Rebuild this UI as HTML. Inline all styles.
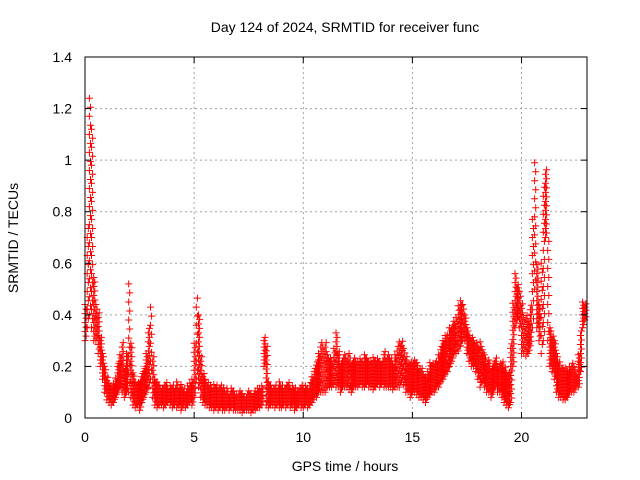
<!DOCTYPE html>
<html><head><meta charset="utf-8"><style>
body{margin:0;background:#fff;}
svg{display:block;font-family:"Liberation Sans",sans-serif;}
</style></head><body>
<svg id="chart" width="640" height="480" viewBox="0 0 640 480">
<rect width="640" height="480" fill="#fff"/>
<text x="345" y="32" font-size="14" text-anchor="middle" fill="#000">Day 124 of 2024, SRMTID for receiver func</text>
<text x="345" y="471" font-size="14" text-anchor="middle" fill="#000">GPS time / hours</text>
<text transform="translate(18,238) rotate(-90)" font-size="14" text-anchor="middle" fill="#000">SRMTID / TECUs</text>
<g id="grid"></g>
<g id="marks"></g>
<g id="axes"></g>
</svg>
<script>
const xTicks=[0,5,10,15,20];
const yTicks=[0,0.2,0.4,0.6,0.8,1,1.2,1.4];
const yTickLabels=["0","0.2","0.4","0.6","0.8","1","1.2","1.4"];
const binHours=0.1;
const lowVals=[
.30,.35,.40,.35,.30,.30,.25,.20,.15,.10,
.07,.06,.05,.06,.08,.10,.12,.10,.08,.10,
.10,.08,.05,.04,.05,.03,.06,.08,.10,.12,
.15,.08,.05,.04,.05,.05,.04,.05,.06,.05,
.04,.05,.04,.05,.03,.05,.04,.05,.06,.05,
.08,.15,.12,.08,.06,.05,.05,.04,.04,.03,
.04,.03,.04,.03,.03,.04,.03,.04,.03,.03,
.03,.03,.02,.03,.03,.03,.02,.03,.03,.04,
.04,.05,.20,.05,.04,.05,.05,.04,.05,.04,
.04,.05,.04,.05,.04,.05,.03,.04,.05,.04,
.04,.05,.04,.05,.06,.08,.08,.10,.10,.10,
.10,.12,.12,.12,.13,.12,.12,.10,.12,.12,
.12,.11,.10,.12,.12,.12,.13,.12,.12,.13,
.12,.12,.11,.12,.13,.12,.13,.12,.12,.12,
.12,.11,.12,.12,.12,.14,.13,.10,.10,.08,
.10,.10,.09,.08,.08,.07,.06,.08,.09,.10,
.10,.12,.12,.14,.15,.17,.18,.20,.22,.25,
.25,.26,.28,.30,.30,.25,.22,.20,.20,.18,
.15,.12,.14,.12,.10,.10,.08,.10,.12,.10,
.10,.08,.06,.05,.04,.06,.20,.35,.38,.35,
.25,.25,.24,.25,.28,.35,.50,.35,.30,.25,
.30,.70,.30,.20,.18,.15,.10,.08,.08,.07,
.07,.08,.10,.10,.10,.12,.12,.18,.35,.38];
const highVals=[
.45,.75,1.24,1.12,.55,.45,.42,.32,.25,.20,
.16,.14,.13,.14,.16,.22,.25,.30,.20,.25,
.54,.30,.18,.15,.14,.15,.18,.20,.25,.35,
.46,.25,.15,.14,.13,.12,.13,.14,.12,.13,
.13,.12,.14,.12,.13,.12,.11,.13,.14,.16,
.30,.47,.40,.25,.18,.15,.14,.13,.12,.13,
.13,.12,.13,.12,.11,.12,.10,.12,.11,.10,
.10,.11,.10,.09,.10,.11,.10,.10,.11,.12,
.12,.13,.32,.28,.15,.13,.12,.13,.12,.14,
.13,.12,.13,.14,.12,.13,.12,.11,.12,.13,
.12,.13,.12,.14,.16,.20,.22,.25,.30,.28,
.30,.25,.24,.22,.28,.34,.26,.22,.24,.25,
.24,.26,.22,.24,.22,.23,.24,.22,.25,.23,
.22,.23,.24,.22,.24,.23,.22,.26,.24,.25,
.24,.22,.25,.28,.30,.31,.28,.24,.22,.22,
.22,.23,.22,.20,.20,.18,.16,.18,.22,.22,
.22,.23,.25,.28,.30,.32,.33,.35,.36,.38,
.40,.45,.47,.45,.40,.35,.33,.32,.30,.30,
.28,.30,.27,.25,.22,.23,.20,.22,.24,.20,
.22,.22,.20,.18,.18,.30,.45,.57,.52,.50,
.45,.40,.40,.38,.45,.80,1.02,.60,.45,.60,
.90,.97,.70,.35,.32,.30,.25,.22,.20,.20,
.20,.18,.20,.22,.20,.18,.25,.35,.45,.45];

const X0=85,X1=587,Y0=418,Y1=57,XMAX=23,YMAX=1.4;
const xs=v=>X0+(X1-X0)*v/XMAX;
const ys=v=>Y0-(Y0-Y1)*v/YMAX;
const NS="http://www.w3.org/2000/svg";
function mk(tag,attrs,parent){const e=document.createElementNS(NS,tag);for(const k in attrs)e.setAttribute(k,attrs[k]);parent.appendChild(e);return e;}
const grid=document.getElementById('grid'),axes=document.getElementById('axes'),marks=document.getElementById('marks');

xTicks.forEach(t=>{
  const x=xs(t);
  if(t>0){const g=mk('line',{x1:x,x2:x,y1:Y1,y2:Y0,stroke:'#a0a0a0','stroke-dasharray':'2,3'},grid);
  
  }
  mk('line',{x1:x,x2:x,y1:Y0,y2:Y0-6,stroke:'#000'},axes);
  mk('line',{x1:x,x2:x,y1:Y1,y2:Y1+6,stroke:'#000'},axes);
  const l=mk('text',{x:x,y:Y0+24,'font-size':14,'text-anchor':'middle',fill:'#000'},axes);
  l.textContent=t;
  
  
});
yTicks.forEach((t,i)=>{
  const y=ys(t);
  if(t>0&&t<YMAX){const g=mk('line',{x1:X0,x2:X1,y1:y,y2:y,stroke:'#a0a0a0','stroke-dasharray':'2,3'},grid);
  
  }
  mk('line',{x1:X0,x2:X0+6,y1:y,y2:y,stroke:'#000'},axes);
  mk('line',{x1:X1,x2:X1-6,y1:y,y2:y,stroke:'#000'},axes);
  const l=mk('text',{x:X0-13,y:y+5,'font-size':14,'text-anchor':'end',fill:'#000'},axes);
  l.textContent=yTickLabels[i];
  
  
});
const frame=mk('rect',{x:X0,y:Y1,width:X1-X0,height:Y0-Y1,fill:'none',stroke:'#000'},axes);



let d='';
lowVals.forEach((lo,i)=>{
  const hi=highVals[i];
  const t0=i*binHours;
  const span=hi-lo;
  const step=span>0.3?0.07:(span>0.15?0.035:0.025);
  [0.0,0.05].forEach((off,k)=>{
    const x=xs(t0+off);
    for(let v=lo+(k*step/2);v<=hi+1e-9;v+=step){
      const y=ys(v);
      d+=`M${(x-3.5).toFixed(1)} ${y.toFixed(1)}h7M${x.toFixed(1)} ${(y-3.5).toFixed(1)}v7`;
    }
  });
});
const p=mk('path',{d:d,stroke:'#ff0000','stroke-width':1,fill:'none'},marks);


</script>
</body></html>
